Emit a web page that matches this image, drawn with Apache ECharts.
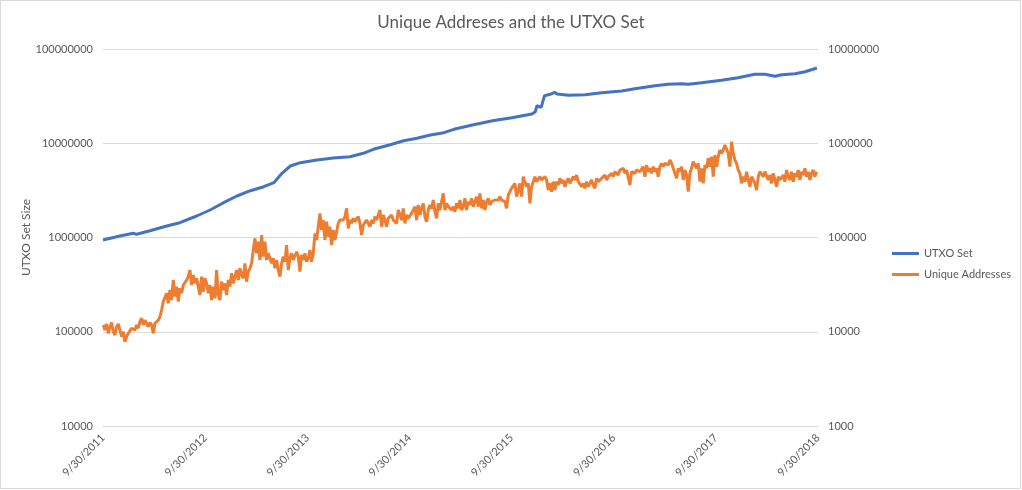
<!DOCTYPE html>
<html>
<head>
<meta charset="utf-8">
<script src="https://cdn.jsdelivr.net/npm/echarts@6/dist/echarts.min.js"></script>
<style>
html,body{margin:0;padding:0;background:#fff;}
#chart{width:1022px;height:490px;}
</style>
</head>
<body>
<div id="chart"></div>
<script>
// ---- Data ----
const xTickLabels = ['9/30/2011','9/30/2012','9/30/2013','9/30/2014','9/30/2015','9/30/2016','9/30/2017','9/30/2018'];
const leftTicks = [10000, 100000, 1000000, 10000000, 100000000];
const rightTicks = [1000, 10000, 100000, 1000000, 10000000];
const leftAxisName = 'UTXO Set Size';

const utxoDates = ['2011-09-30','2011-11-29','2012-01-16','2012-01-28','2012-03-16','2012-05-15','2012-07-01','2012-08-30','2012-10-17','2012-12-04',
 '2013-01-21','2013-03-10','2013-04-27','2013-06-02','2013-07-01','2013-07-31','2013-09-05','2013-11-03','2014-01-01','2014-03-01',
 '2014-04-18','2014-05-24','2014-07-23','2014-09-09','2014-10-27','2014-12-14','2015-01-31','2015-03-08','2015-05-13','2015-07-24',
 '2015-10-01','2015-12-12','2015-12-24','2015-12-30','2016-01-14','2016-01-26','2016-02-15','2016-03-02','2016-03-11','2016-04-21',
 '2016-06-19','2016-08-18','2016-10-28','2016-12-14','2017-02-24','2017-04-12','2017-05-30','2017-06-23','2017-08-10','2017-10-20',
 '2017-12-18','2018-02-16','2018-03-24','2018-04-29','2018-05-23','2018-07-10','2018-08-15','2018-09-26'];
const utxoValues = [941000,1037000,1108000,1081000,1180000,1324000,1436000,1691000,1958000,2340000,
 2755000,3137000,3459000,3813000,4799000,5737000,6219000,6640000,6975000,7200000,
 7820000,8630000,9650000,10640000,11280000,12230000,12940000,14060000,15620000,17340000,
 18670000,20430000,21620000,25010000,24060000,31960000,33070000,34720000,33310000,32280000,
 32740000,34380000,35840000,37930000,40800000,42220000,42850000,42220000,43870000,46550000,
 49620000,53900000,53900000,51320000,53380000,54690000,57440000,62850000];

// Unique addresses: one reading about every 6 days from the first date
const addrStart = '2011-10-01';
const addrStepDays = 5.96;
const addrValues = [
 11800,10400,12100,9620,11300,12500,10000,9240,11300,12100,
 10400,8870,10000,7850,8870,9620,9240,10900,11300,10400,
 11800,10900,12800,13900,11800,13300,12300,11300,12500,11800,
 9620,12300,12800,13300,14500,17000,20900,21700,25600,20000,
 27700,21700,35400,23600,30100,20900,28900,25600,31300,30100,
 35400,38400,45200,31300,40000,32600,36900,30100,24500,38400,
 26600,36900,32600,25600,31300,21700,30100,22600,45200,24500,
 21700,34000,27700,32600,24500,35400,30100,41700,32600,38400,
 45200,35400,47100,40000,36900,53200,34000,43400,47100,53200,
 73700,98000,67900,90300,57700,106000,62600,90300,57700,67900,
 65200,53200,60100,47100,57700,45200,38400,
 53200,62600,55400,83200,45200,60100,67900,57700,55400,70700,
 62600,43400,65200,57700,67900,55400,60100,73700,55400,67900,
 110700,94100,130300,180400,120100,153300,94100,147200,102000,130300,
 83200,120100,94100,
 115300,141300,153300,159700,153300,166300,203900,125100,153300,141300,
 159700,147200,153300,166300,141300,106300,135700,141300,153300,159700,
 130300,153300,141300,166300,153300,147200,195700,130300,173300,153300,
 130300,159700,153300,173300,153300,159700,141300,195700,203900,153300,
 203900,141300,173300,159700,166300,180400,187900,212400,153300,221200,
 173300,203900,230300,166300,147200,195700,221200,203900,249900,187900,
 159700,230300,195700,239900,294100,195700,230300,212400,221200,195700,
 212400,187900,230300,203900,249900,195700,212400,260300,195700,239900,
 221200,260300,212400,239900,271100,212400,294100,203900,249900,195700,
 239900,260300,221200,239900,230300,249900,260300,249900,271100,249900,
 260300,239900,203900,282400,306300,332400,319100,375600,271100,319100,
 375500,271100,441900,460300,346200,375500,230300,346200,391200,441900,
 391200,407400,441900,407400,424300,441900,407400,319000,375500,306300,
 391200,319000,391200,360600,424300,375500,407400,346200,391200,424300,
 375500,407400,441900,407400,460300,391200,375500,346200,375500,332300,
 391200,346200,375500,407400,360600,332300,424300,391200,407400,424300,
 407400,460300,407400,441900,424300,479400,441900,499300,520100,460300,
 520100,499300,541700,479400,520100,541700,360600,499300,520100,479400,
 520100,541700,499300,520100,564100,441900,587500,499300,541700,479400,
 564100,499300,541700,441900,564100,612000,564100,612000,637500,587500,
 664000,612000,541700,564100,424300,541700,499300,564100,407400,520100,
 460300,306300,479400,541700,637500,587500,541700,612000,391200,541700,
 375500,587500,541700,691600,564100,720200,441900,750200,564100,720200,
 847800,781400,847800,957900,919800,781400,564100,1039000,781400,664000,
 612000,520100,479400,375500,441900,391200,499300,407400,346200,441900,
 460300,375500,319000,441900,499300,479400,441900,499300,479400,407400,
 460300,375500,479400,407400,346200,441900,407400,391200,460300,391200,
 520100,441900,407400,499300,391200,479400,441900,520100,407400,499300,
 460300,541700,441900,499300,407400,479400,520100,441900,499300];

// ---- Build chart ----
const DAY = 86400000;
function parseISO(s){ const p = s.split('-').map(Number); return Date.UTC(p[0], p[1]-1, p[2]); }
function parseMDY(s){ const p = s.split('/').map(Number); return Date.UTC(p[2], p[0]-1, p[1]); }
const tickTimes = xTickLabels.map(parseMDY);
const utxoData = utxoDates.map((d, i) => [parseISO(d), utxoValues[i]]);
const t0 = parseISO(addrStart);
const addrData = addrValues.map((v, i) => [t0 + i * addrStepDays * DAY, v]);
function fmtDate(t){ const d = new Date(t); return (d.getUTCMonth()+1) + '/' + d.getUTCDate() + '/' + d.getUTCFullYear(); }

const txt = '#595959';
const font = 'Lato, "Liberation Sans", sans-serif';
const chart = echarts.init(document.getElementById('chart'), null, {renderer: 'canvas'});
chart.setOption({
  animation: false,
  backgroundColor: '#fff',
  textStyle: { fontFamily: font },
  title: {
    text: 'Unique Addreses and the UTXO Set',
    left: 'center', top: 9,
    textStyle: { color: txt, fontSize: 17, fontWeight: 'normal', fontFamily: font }
  },
  graphic: [
    { type: 'rect', shape: { x: 0.5, y: 0.5, width: 1020, height: 488 },
      style: { fill: 'none', stroke: '#d9d9d9', lineWidth: 1 }, silent: true, z: -1 },
    { type: 'text', x: 26, y: 237.5, rotation: Math.PI / 2, silent: true,
      style: { text: leftAxisName, fill: txt, font: '12px ' + font, align: 'center', verticalAlign: 'middle' } }
  ],
  legend: {
    orient: 'vertical', left: 887, top: 243,
    itemWidth: 27, itemHeight: 3, itemGap: 10, icon: 'rect',
    textStyle: { color: txt, fontSize: 11, fontFamily: font },
    data: ['UTXO Set', 'Unique Addresses']
  },
  grid: { left: 103, right: 204, top: 49, bottom: 64 },
  xAxis: {
    type: 'value',
    min: tickTimes[0], max: tickTimes[tickTimes.length-1],
    axisLine: { show: true, lineStyle: { color: '#d9d9d9' } },
    axisTick: { show: false },
    splitLine: { show: false },
    axisLabel: {
      customValues: tickTimes,
      rotate: 45, margin: 10, color: txt, fontSize: 11, fontFamily: font,
      formatter: v => fmtDate(v)
    }
  },
  yAxis: [{
    type: 'log', logBase: 10, min: leftTicks[0], max: leftTicks[leftTicks.length-1],
    axisLine: { show: false }, axisTick: { show: false },
    splitLine: { show: true, lineStyle: { color: '#d9d9d9' } },
    axisLabel: { color: txt, fontSize: 11, margin: 10, fontFamily: font, formatter: v => String(Math.round(v)) }
  }, {
    type: 'log', logBase: 10, min: rightTicks[0], max: rightTicks[rightTicks.length-1],
    position: 'right',
    axisLine: { show: false }, axisTick: { show: false },
    splitLine: { show: false },
    axisLabel: { color: txt, fontSize: 11, margin: 10, fontFamily: font, formatter: v => String(Math.round(v)) }
  }],
  series: [{
    name: 'UTXO Set', type: 'line', yAxisIndex: 0, data: utxoData,
    showSymbol: false, symbol: 'none',
    lineStyle: { color: '#4472C4', width: 3 }, itemStyle: { color: '#4472C4' }
  }, {
    name: 'Unique Addresses', type: 'line', yAxisIndex: 1, data: addrData,
    showSymbol: false, symbol: 'none',
    lineStyle: { color: '#ED7D31', width: 3 }, itemStyle: { color: '#ED7D31' }
  }]
});
</script>
</body>
</html>
